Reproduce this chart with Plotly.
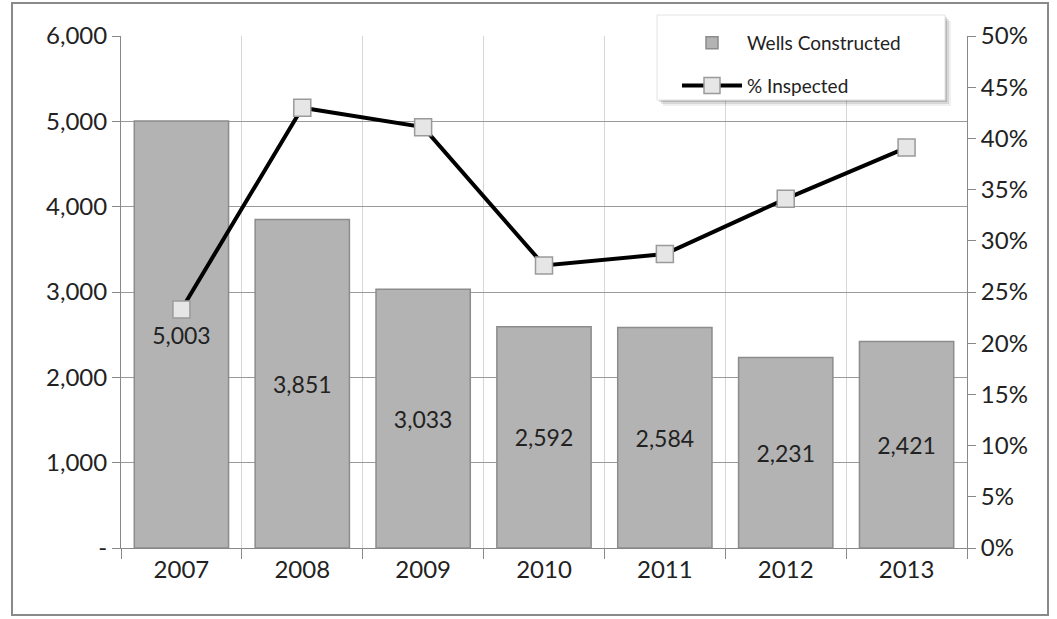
import plotly.graph_objects as go

years = ["2007", "2008", "2009", "2010", "2011", "2012", "2013"]
wells_constructed = [5003, 3851, 3033, 2592, 2584, 2231, 2421]
pct_inspected = [23.3, 43.0, 41.1, 27.6, 28.7, 34.1, 39.1]

left_ticks = [0, 1000, 2000, 3000, 4000, 5000, 6000]
left_labels = ["-", "1,000", "2,000", "3,000", "4,000", "5,000", "6,000"]
right_ticks = [0, 5, 10, 15, 20, 25, 30, 35, 40, 45, 50]
right_labels = [f"{v}%" for v in right_ticks]

FONT = "Lato, 'Open Sans', sans-serif"
TXT = "#222222"

# plot-area geometry in pixels, used to place paper-referenced decorations
L, R, T, B = 121, 90, 36, 71
W, H = 1057, 619
PW, PH = W - L - R, H - T - B


def px(x):
    return (x - L) / PW


def py(y):
    return (H - B - y) / PH


fig = go.Figure()

fig.add_trace(go.Bar(
    x=years, y=wells_constructed, name="Wells Constructed",
    legendgroup="wells",
    marker=dict(color="#b3b3b3", line=dict(color="#8c8c8c", width=1.5)),
    text=[f"{v:,}" for v in wells_constructed],
    textposition="inside", insidetextanchor="middle",
    textfont=dict(family=FONT, size=23, color=TXT),
    yaxis="y",
))

fig.add_trace(go.Scatter(
    x=years, y=pct_inspected, name="% Inspected",
    legendgroup="pct",
    mode="lines+markers",
    line=dict(color="#000000", width=4),
    marker=dict(symbol="square", size=17, color="#e6e6e6",
                line=dict(color="#9a9a9a", width=1.5)),
    yaxis="y2",
))

# outer chart frame
fig.add_shape(type="rect", xref="paper", yref="paper",
              x0=px(12), x1=px(1048), y0=py(615), y1=py(3),
              line=dict(color="#8a8a8a", width=2), fillcolor="rgba(0,0,0,0)",
              layer="below")
# legend box: soft shadow and white panel
for off, alpha in [(6, 0.06), (4, 0.10), (2, 0.14)]:
    fig.add_shape(type="rect", xref="paper", yref="paper",
                  x0=px(657 + off), x1=px(945 + off),
                  y0=py(100 + off), y1=py(15 + off),
                  line=dict(width=0), fillcolor=f"rgba(0,0,0,{alpha})",
                  layer="above")
fig.add_shape(type="rect", xref="paper", yref="paper",
              x0=px(657), x1=px(945), y0=py(100), y1=py(15),
              line=dict(color="#e2e2e2", width=1), fillcolor="white",
              layer="above")

fig.update_layout(
    width=W, height=H,
    margin=dict(l=L, r=R, t=T, b=B),
    paper_bgcolor="white", plot_bgcolor="white",
    bargap=0.22,
    showlegend=True,
    legend=dict(x=px(677), y=py(24), xanchor="left", yanchor="top",
                bgcolor="rgba(0,0,0,0)", borderwidth=0,
                font=dict(family=FONT, size=19, color=TXT),
                itemwidth=60, traceorder="grouped", tracegroupgap=15),
    font=dict(family=FONT, color=TXT),
    xaxis=dict(
        tickson="boundaries", ticks="outside", ticklen=10, tickcolor="#888888",
        showgrid=True, gridcolor="#d6d6d6", gridwidth=1,
        showline=True, linecolor="#888888", linewidth=1,
        tickfont=dict(family=FONT, size=24, color=TXT),
    ),
    yaxis=dict(
        range=[0, 6000], tickvals=left_ticks, ticktext=left_labels,
        ticks="outside", ticklen=8, tickcolor="#888888",
        showgrid=True, gridcolor="#9a9a9a", gridwidth=1,
        showline=True, linecolor="#888888", linewidth=1,
        zeroline=False,
        tickfont=dict(family=FONT, size=24, color=TXT),
    ),
    yaxis2=dict(
        range=[0, 50], tickvals=right_ticks, ticktext=right_labels,
        overlaying="y", side="right",
        ticks="outside", ticklen=8, tickcolor="#888888",
        showgrid=False, showline=True, linecolor="#888888", linewidth=1,
        zeroline=False,
        tickfont=dict(family=FONT, size=24, color=TXT),
    ),
)

fig.write_html("out.html")
